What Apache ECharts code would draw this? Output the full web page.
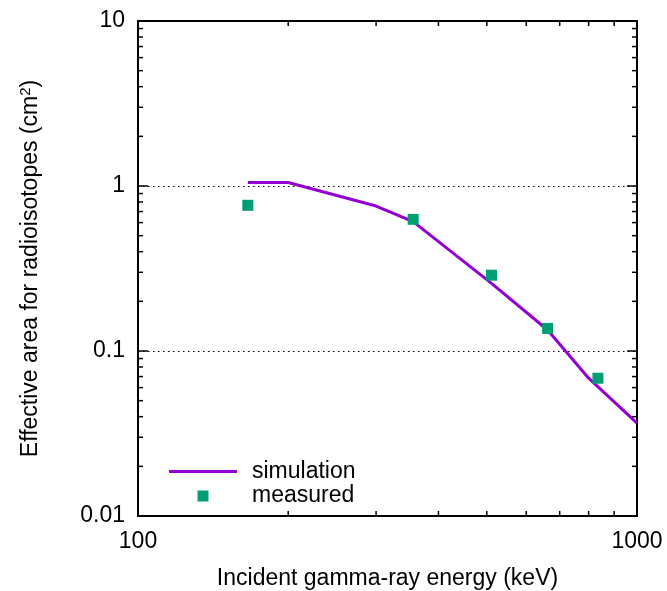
<!DOCTYPE html>
<html>
<head>
<meta charset="utf-8">
<script src="https://cdn.jsdelivr.net/npm/echarts@6/dist/echarts.min.js"></script>
<style>
  html, body { margin: 0; padding: 0; background: #fff; }
  #chart { width: 667px; height: 591px; }
</style>
</head>
<body>
<div id="chart"></div>
<script>
// Simulated effective area curve (keV, cm^2)
const simEnergy = [166, 200, 300, 356, 511, 662, 800, 1000];
const simArea   = [1.05, 1.05, 0.756, 0.608, 0.257, 0.134, 0.0684, 0.0365];

// Measured points from calibration sources (keV, cm^2)
const measEnergy = [166, 356, 511, 662, 835];
const measArea   = [0.764, 0.628, 0.288, 0.137, 0.0684];

// Axis ranges and tick positions
const xRange = [100, 1000];
const yRange = [0.01, 10];
const xMinorTicks = [200, 300, 400, 500, 600, 700, 800, 900];
const yMajorTicks = [0.1, 1];
const yMinorTicks = [0.02, 0.03, 0.04, 0.05, 0.06, 0.07, 0.08, 0.09,
                     0.2, 0.3, 0.4, 0.5, 0.6, 0.7, 0.8, 0.9,
                     2, 3, 4, 5, 6, 7, 8, 9];

const FONT = 'Liberation Sans, Arial, sans-serif';
const FS = 23;
const MAJOR_LEN = 10, MINOR_LEN = 5;

const chart = echarts.init(document.getElementById('chart'), null, { renderer: 'canvas' });

function tickLine(x1, y1, x2, y2) {
  return { type: 'line', shape: { x1, y1, x2, y2 },
           style: { stroke: '#000', lineWidth: 1.5 } };
}

// Inward ticks on bottom and top borders
function renderXTicks(params, api) {
  const cs = params.coordSys;
  const px = api.coord([api.value(0), 1])[0];
  const len = api.value(2);
  const bottom = cs.y + cs.height, top = cs.y;
  return { type: 'group', children: [
    tickLine(px, bottom, px, bottom - len),
    tickLine(px, top, px, top + len)
  ] };
}

// Inward ticks on left and right borders
function renderYTicks(params, api) {
  const cs = params.coordSys;
  const py = api.coord([200, api.value(1)])[1];
  const len = api.value(2);
  const left = cs.x, right = cs.x + cs.width;
  return { type: 'group', children: [
    tickLine(left, py, left + len, py),
    tickLine(right, py, right - len, py)
  ] };
}

const xTickData = xMinorTicks.map(v => [v, 1, MINOR_LEN]);
const yTickData = yMajorTicks.map(v => [200, v, MAJOR_LEN])
  .concat(yMinorTicks.map(v => [200, v, MINOR_LEN]));

const option = {
  backgroundColor: '#fff',
  animation: false,
  textStyle: { fontFamily: FONT },
  grid: {
    left: 138, right: 30, top: 21, bottom: 75,
    outerBoundsMode: 'none', containLabel: false,
    show: true, borderColor: '#000', borderWidth: 2, backgroundColor: 'transparent'
  },
  xAxis: {
    type: 'log', logBase: 10, min: xRange[0], max: xRange[1],
    name: 'Incident gamma-ray energy (keV)',
    nameLocation: 'middle', nameGap: 51,
    nameTextStyle: { fontSize: FS, color: '#000', fontFamily: FONT },
    axisLine: { show: true, lineStyle: { color: '#000', width: 2 } },
    axisTick: { show: false },
    splitLine: { show: false },
    axisLabel: { fontSize: FS, color: '#000', margin: 14, fontFamily: FONT,
                 formatter: v => String(Math.round(v)) }
  },
  yAxis: {
    type: 'log', logBase: 10, min: yRange[0], max: yRange[1],
    name: 'Effective area for radioisotopes (cm{sup|2})',
    nameLocation: 'middle', nameGap: 94,
    nameTextStyle: { fontSize: FS, color: '#000', fontFamily: FONT,
      rich: { sup: { fontSize: 15, color: '#000', fontFamily: FONT, verticalAlign: 'bottom', padding: [0, 0, 11, 0] } } },
    axisLine: { show: true, lineStyle: { color: '#000', width: 2 } },
    axisTick: { show: false },
    splitLine: { show: true, lineStyle: { color: '#000', width: 1, type: [1.5, 3.5] } },
    axisLabel: { fontSize: FS, color: '#000', margin: 13, fontFamily: FONT,
                 formatter: v => {
                   if (v >= 1) return String(Math.round(v));
                   return String(Number(v.toPrecision(1)));
                 } }
  },
  legend: {
    left: 169, top: 460, orient: 'vertical',
    itemWidth: 68, itemHeight: 11, itemGap: 1.5,
    padding: 0,
    textStyle: { fontSize: FS, color: '#000', fontFamily: FONT, padding: [0, 0, 0, 10] },
    data: [
      { name: 'simulation', icon: 'path://M0,0h68v3h-68z', itemStyle: { color: '#9400D3' } },
      { name: 'measured', icon: 'path://M0,0h11v11h-11z', itemStyle: { color: '#009E73', opacity: 1 } }
    ]
  },
  series: [
    {
      name: 'simulation', type: 'line',
      data: simEnergy.map((e, i) => [e, simArea[i]]),
      showSymbol: false, symbol: 'none',
      lineStyle: { color: '#9400D3', width: 3 },
      itemStyle: { color: '#9400D3' },
      z: 3
    },
    {
      name: 'measured', type: 'scatter',
      data: measEnergy.map((e, i) => [e, measArea[i]]),
      symbol: 'rect', symbolSize: 11,
      itemStyle: { color: '#009E73', opacity: 1 },
      z: 4
    },
    {
      name: 'xticks', type: 'custom', renderItem: renderXTicks,
      data: xTickData, clip: false, silent: true, z: 5
    },
    {
      name: 'yticks', type: 'custom', renderItem: renderYTicks,
      data: yTickData, clip: false, silent: true, z: 5
    }
  ]
};

chart.setOption(option);
</script>
</body>
</html>
